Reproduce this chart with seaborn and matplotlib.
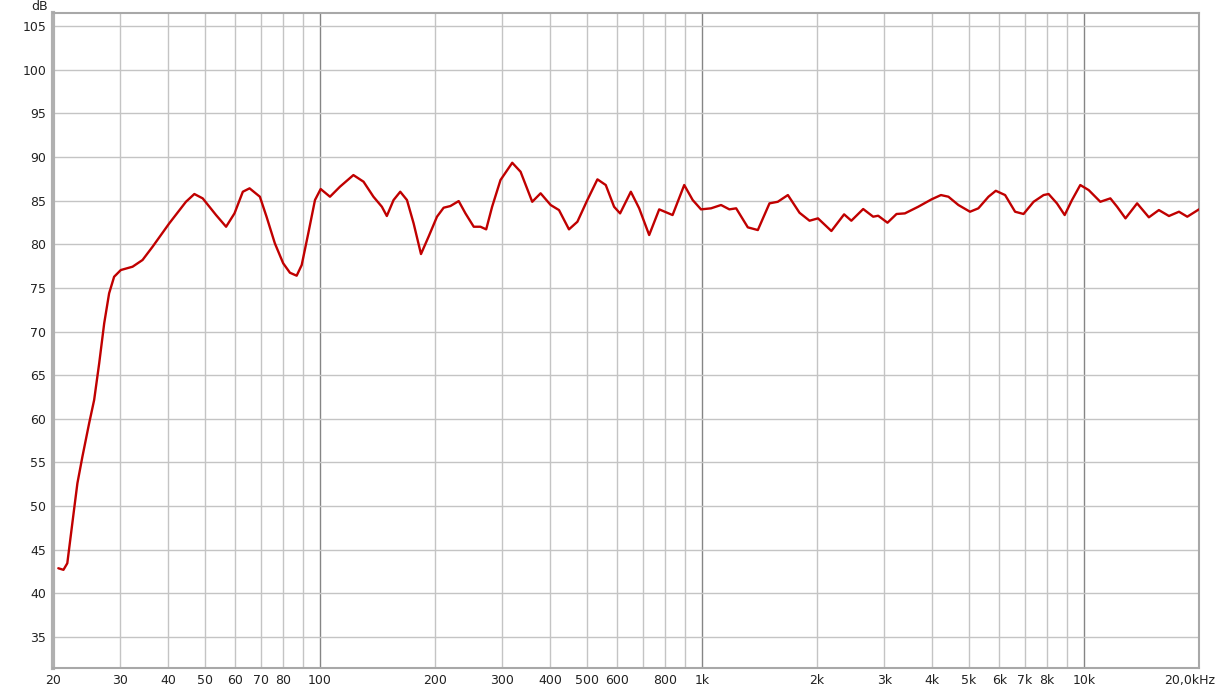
import numpy as np
import pandas as pd
import matplotlib
matplotlib.use("Agg")
import matplotlib.pyplot as plt
import matplotlib.transforms as mtransforms
import seaborn as sns

# Frequency response (Hz, dB)
freq_hz = [20.65, 21.3, 21.8, 22.24, 22.7, 23.17, 23.88, 24.87, 25.63, 26.42, 27.23,
           28.05, 28.91, 30.1, 32.31, 34.31, 36.45, 40.31, 44.57, 46.89, 49.31, 53.44,
           56.77, 59.72, 62.8, 65.4, 69.6, 72.45, 76.17, 80.1, 83.42, 86.87, 89.55,
           93.17, 97.02, 100.4, 106.2, 112.8, 122.3, 130, 138, 145.2, 149.6, 155.8,
           162.2, 168.9, 175.8, 183.8, 192.4, 202.4, 210.7, 219.4, 230.7, 240.3, 252.6,
           263, 272.3, 282.2, 296.8, 318.6, 335, 359.4, 378, 401.6, 422.3, 448.5, 471.8,
           501, 532.4, 559.8, 588.6, 610.3, 651.2, 684.7, 727.3, 772.6, 837.5, 898.4,
           945.4, 994, 1056, 1121.6, 1179.5, 1228.6, 1318, 1400, 1502, 1579, 1678, 1800,
           1912, 2012, 2181, 2355, 2460, 2642, 2806, 2892, 3059, 3230, 3397, 3681, 3990,
           4222, 4416, 4690, 5030, 5290, 5623, 5876, 6215, 6601, 6945, 7380, 7838, 8078,
           8493, 8900, 9301, 9778, 10287, 11033, 11721, 12208, 12840, 13772, 14785,
           15703, 16688, 17725, 18636, 19996]
level_db = [42.88, 42.7, 43.45, 46.5, 49.56, 52.62, 55.67, 59.5, 62.16, 66.36, 70.94,
            74.38, 76.28, 77.05, 77.43, 78.2, 79.72, 82.4, 84.87, 85.76, 85.26, 83.35,
            82.01, 83.54, 86.02, 86.41, 85.45, 83.16, 80.11, 77.82, 76.74, 76.4, 77.62,
            81.25, 85.07, 86.33, 85.45, 86.6, 87.93, 87.17, 85.45, 84.3, 83.24, 85.07,
            86.02, 85.07, 82.4, 78.88, 80.87, 83.16, 84.19, 84.38, 84.95, 83.54, 82.01,
            82.01, 81.71, 84.3, 87.36, 89.34, 88.31, 84.87, 85.84, 84.5, 83.92, 81.71, 82.58,
            85.07, 87.44, 86.79, 84.3, 83.54, 86.02, 84.12, 81.06, 84.0, 83.35, 86.79,
            85.07, 84.0, 84.12, 84.5, 84.0, 84.12, 81.94, 81.63, 84.69, 84.87, 85.64, 83.61,
            82.7, 82.97, 81.52, 83.43, 82.7, 84.04, 83.16, 83.27, 82.47, 83.47, 83.54, 84.3, 85.15,
            85.64, 85.45, 84.5, 83.73, 84.12, 85.45, 86.13, 85.64, 83.73, 83.47, 84.87, 85.64, 85.76,
            84.69, 83.35, 85.07, 86.79, 86.21, 84.87, 85.26, 84.3, 82.97, 84.69, 83.09,
            83.92, 83.24, 83.73, 83.16, 84.0]

x_ticks = [20, 30, 40, 50, 60, 70, 80, 100, 200, 300, 400, 500, 600, 800,
           1000, 2000, 3000, 4000, 5000, 6000, 7000, 8000, 10000, 20000]
x_tick_labels = ["20", "30", "40", "50", "60", "70", "80", "100", "200", "300",
                 "400", "500", "600", "800", "1k", "2k", "3k", "4k", "5k", "6k",
                 "7k", "8k", "10k", "20,0kHz"]
y_ticks = list(range(35, 106, 5))

df = pd.DataFrame({"freq": freq_hz, "db": level_db})

sns.set_style("white")
plt.rcParams['font.family'] = ['DejaVu Sans']

fig = plt.figure(figsize=(12.24, 6.88), dpi=100)
ax = fig.add_axes([53/1224, 1-668/688, (1199-53)/1224, (668-13)/688])

ax.set_xscale("log")
ax.set_xlim(20, 20000)
ax.set_ylim(31.45, 106.5)

# grid lines
minor = []
for dec in [10, 100, 1000, 10000]:
    for m in range(2, 10):
        v = dec * m
        if 20 < v < 20000:
            minor.append(v)
for v in minor:
    ax.axvline(v, color="#c4c4c4", lw=1, zorder=0)
for v in [100, 1000, 10000]:
    ax.axvline(v, color="#858585", lw=1, zorder=0)
for v in y_ticks:
    ax.axhline(v, color="#c4c4c4", lw=1, zorder=0)

sns.lineplot(data=df, x="freq", y="db", ax=ax, color="#c00000", lw=1.7, zorder=3)
for ln in ax.get_lines():
    ln.set_solid_joinstyle("round")
    ln.set_solid_capstyle("round")

ax.set_xticks(x_ticks)
ax.set_xticklabels(x_tick_labels)
ax.xaxis.set_minor_locator(matplotlib.ticker.NullLocator())
ax.set_yticks(y_ticks)
ax.set_yticklabels([str(v) for v in y_ticks])
ax.tick_params(axis="both", length=0, labelsize=9, colors="#222222")
ax.tick_params(axis="x", pad=4)
ax.tick_params(axis="y", pad=5)
ax.set_xlabel("")
ax.set_ylabel("")

last = ax.get_xticklabels()[-1]
last.set_transform(last.get_transform() +
                   mtransforms.ScaledTranslation(-9/100, 0, fig.dpi_scale_trans))

for side in ["top", "right", "bottom"]:
    ax.spines[side].set_color("#a8a8a8")
    ax.spines[side].set_linewidth(1.5)
ax.spines["left"].set_color("#b0b0b0")
ax.spines["left"].set_linewidth(3)

fig.text(40/1224, 1-6/688, "dB", fontsize=9, ha="center", va="center", color="#222222")

fig.savefig("out.png", dpi=100)
